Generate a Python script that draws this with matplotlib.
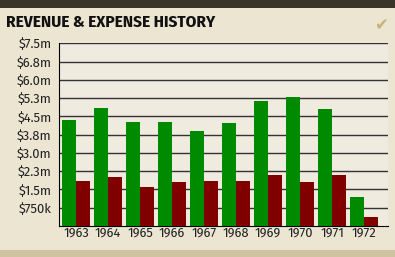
import matplotlib
matplotlib.use("Agg")
import matplotlib.pyplot as plt
import numpy as np
from matplotlib.patches import Rectangle
from matplotlib import font_manager

years = ["1963", "1964", "1965", "1966", "1967", "1968", "1969", "1970", "1971", "1972"]
revenue = [4.35, 4.84, 4.27, 4.27, 3.90, 4.23, 5.13, 5.30, 4.80, 1.19]  # $ millions
expense = [1.85, 2.01, 1.60, 1.81, 1.85, 1.85, 2.11, 1.81, 2.11, 0.37]
tick_vals = [0.75, 1.5, 2.25, 3.0, 3.75, 4.5, 5.25, 6.0, 6.75, 7.5]
tick_labels = ["$750k", "$1.5m", "$2.3m", "$3.0m", "$3.8m", "$4.5m",
               "$5.3m", "$6.0m", "$6.8m", "$7.5m"]

installed = {f.name for f in font_manager.fontManager.ttflist}
title_font = next((n for n in ["Fira Sans Condensed", "Barlow Semi Condensed", "Asap Condensed"]
                   if n in installed), "DejaVu Sans")
tick_font = next((n for n in ["Fira Sans", "Roboto"] if n in installed), "DejaVu Sans")

fig = plt.figure(figsize=(3.95, 2.57), dpi=100)
fig.patch.set_facecolor("#ece5d2")

# frame decoration: dark strip on top, shadowed strip at the bottom
fig.patches.append(Rectangle((0, 1 - 8 / 257), 1, 8 / 257, transform=fig.transFigure,
                             facecolor="#3b342a", edgecolor="none", zorder=0))
fig.patches.append(Rectangle((0, 0), 1, 7 / 257, transform=fig.transFigure,
                             facecolor="#cfc3a0", edgecolor="none", zorder=0))

ax = fig.add_axes([58.5 / 395, 1 - 226 / 257, (388 - 58.5) / 395, (226 - 43.3) / 257])
ax.set_facecolor("#efebdf")

x = np.arange(len(years))
w = 0.4375
ax.bar(x - w / 2, revenue, width=w, color="#008a00", zorder=2)
ax.bar(x + w / 2, expense, width=w, color="#800000", zorder=2)

ax.set_ylim(0, 7.5)
ax.set_xlim(-0.547, 9.75)
ax.set_yticks(tick_vals)
ax.set_yticklabels(tick_labels)
ax.set_xticks(x)
ax.set_xticklabels(years)
ax.yaxis.grid(True, color="#333333", linewidth=1.0, zorder=1)
ax.set_axisbelow(True)
for s in ["top", "right"]:
    ax.spines[s].set_visible(False)
ax.spines["left"].set_color("black")
ax.spines["bottom"].set_color("black")
ax.tick_params(axis="both", length=0, labelsize=9.3, labelcolor="#222222")
ax.tick_params(axis="y", pad=5)
ax.tick_params(axis="x", pad=0.5)
for lab in ax.get_xticklabels() + ax.get_yticklabels():
    lab.set_family(tick_font)

fig.text(6 / 395, 1 - 27 / 257, "REVENUE & EXPENSE HISTORY", fontsize=12.3,
         fontweight="bold", color="#111111", family=title_font, va="baseline")
fig.text(381 / 395, 1 - 30 / 257, "\u2714", fontsize=12, color="#c8b47a",
         ha="center", va="baseline", family="DejaVu Sans")

fig.savefig("out.png", dpi=100, facecolor=fig.get_facecolor())
